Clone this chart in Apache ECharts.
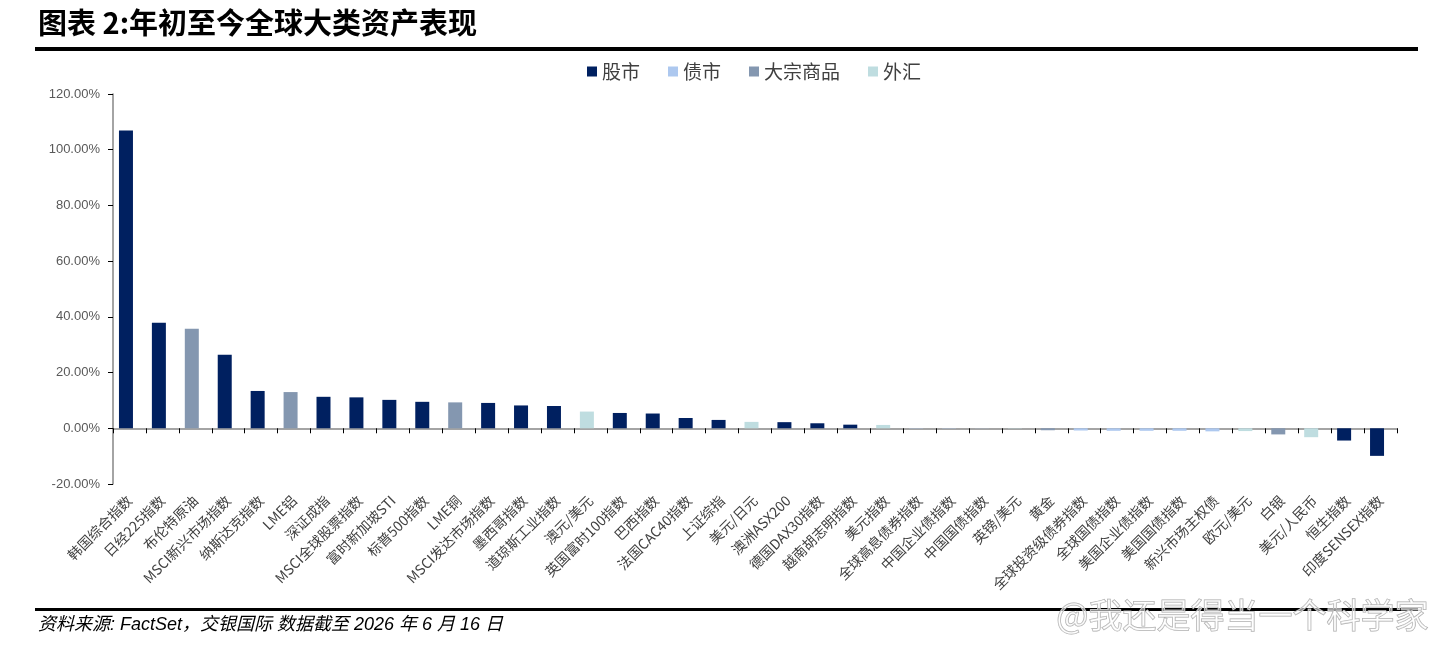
<!DOCTYPE html>
<html>
<head>
<meta charset="utf-8">
<title>年初至今全球大类资产表现</title>
<script src="https://cdn.jsdelivr.net/npm/echarts@6/dist/echarts.min.js"></script>
<style>
  html, body { margin: 0; padding: 0; background: #fff; }
  #chart { width: 1443px; height: 650px; }
</style>
</head>
<body>
<div id="chart"></div>
<script>
// 资产名称（按收益率从高到低）
const categories = [
  "韩国综合指数", "日经225指数", "布伦特原油", "MSCI新兴市场指数", "纳斯达克指数",
  "LME铝", "深证成指", "MSCI全球股票指数", "富时新加坡STI", "标普500指数",
  "LME铜", "MSCI发达市场指数", "墨西哥指数", "道琼斯工业指数", "澳元/美元",
  "英国富时100指数", "巴西指数", "法国CAC40指数", "上证综指", "美元/日元",
  "澳洲ASX200", "德国DAX30指数", "越南胡志明指数", "美元指数", "全球高息债券指数",
  "中国企业债指数", "中国国债指数", "英镑/美元", "黄金", "全球投资级债券指数",
  "全球国债指数", "美国企业债指数", "美国国债指数", "新兴市场主权债", "欧元/美元",
  "白银", "美元/人民币", "恒生指数", "印度SENSEX指数"
];

// 年初至今回报 (%)
const returns = [
  106.9, 37.9, 35.7, 26.4, 13.4,
  13.0, 11.3, 11.1, 10.2, 9.5,
  9.3, 9.1, 8.2, 8.0, 6.0,
  5.5, 5.3, 3.7, 3.0, 2.3,
  2.2, 1.8, 1.3, 1.2, 0.1,
  0.1, 0.05, 0.1, -0.7, -0.8,
  -0.9, -0.9, -0.9, -1.1, -1.0,
  -2.2, -3.2, -4.4, -9.9
];

// 资产类别
const assetClass = [
  "股市", "股市", "大宗商品", "股市", "股市",
  "大宗商品", "股市", "股市", "股市", "股市",
  "大宗商品", "股市", "股市", "股市", "外汇",
  "股市", "股市", "股市", "股市", "外汇",
  "股市", "股市", "股市", "外汇", "债市",
  "债市", "债市", "外汇", "大宗商品", "债市",
  "债市", "债市", "债市", "债市", "外汇",
  "大宗商品", "外汇", "股市", "股市"
];

const classNames = ["股市", "债市", "大宗商品", "外汇"];
const classColors = ["#002060", "#ADC8EF", "#8497B0", "#BFDDE0"];

const yTicks = { min: -20, max: 120, step: 20 };

const chart = echarts.init(document.getElementById("chart"));

const series = classNames.map(function (name, i) {
  return {
    name: name,
    type: "bar",
    stack: "main",
    xAxisIndex: 0,
    barWidth: 14,
    barGap: "-50%",
    itemStyle: { color: classColors[i] },
    data: returns.map(function (v, k) {
      return assetClass[k] === name ? v : "-";
    })
  };
});
// 空白占位列（让柱子略微偏左，与原图一致）
series.push({
  name: "pad",
  type: "bar",
  stack: "pad",
  xAxisIndex: 0,
  barWidth: 14,
  barGap: "-50%",
  data: returns.map(function () { return "-"; })
});

chart.setOption({
  animation: false,
  backgroundColor: "#fff",
  textStyle: { fontFamily: "Noto Sans CJK SC" },
  legend: {
    data: classNames,
    left: 582,
    top: 57,
    icon: "rect",
    itemWidth: 10,
    itemHeight: 10,
    itemGap: 28,
    textStyle: {
      fontSize: 19,
      color: "#404040",
      fontFamily: "Noto Sans CJK SC"
    }
  },
  grid: {
    left: 113,
    right: 46,
    top: 94,
    bottom: 166,
    containLabel: false
  },
  xAxis: [
    {
      type: "category",
      data: categories,
      axisLine: { onZero: true, lineStyle: { color: "#868686", width: 1.5 } },
      axisTick: { show: true, interval: 0, length: 5, lineStyle: { color: "#000" } },
      axisLabel: { show: false }
    },
    {
      type: "category",
      data: categories,
      position: "bottom",
      axisLine: { show: false, onZero: false },
      axisTick: { show: false },
      axisLabel: {
        interval: 0,
        rotate: 45,
        margin: 14,
        fontSize: 14,
        color: "#404040",
        fontFamily: "Noto Sans CJK SC"
      }
    }
  ],
  yAxis: {
    type: "value",
    min: yTicks.min,
    max: yTicks.max,
    interval: yTicks.step,
    axisLine: { show: true, lineStyle: { color: "#868686", width: 1.5 } },
    axisTick: { show: true, length: 5, lineStyle: { color: "#000" } },
    splitLine: { show: false },
    axisLabel: {
      margin: 13,
      fontSize: 13,
      color: "#595959",
      fontFamily: "Liberation Sans",
      formatter: function (v) { return v.toFixed(2) + "%"; }
    }
  },
  graphic: [
    {
      type: "text",
      left: 38,
      top: 8,
      style: {
        text: "图表 2:年初至今全球大类资产表现",
        font: "bold 29px 'Noto Sans CJK SC'",
        fill: "#000"
      }
    },
    { type: "rect", shape: { x: 35, y: 47, width: 1383, height: 4 }, style: { fill: "#000" } },
    { type: "rect", shape: { x: 35, y: 608, width: 1383, height: 3 }, style: { fill: "#000" } },
    {
      type: "text",
      left: 38,
      top: 616,
      style: {
        text: "资料来源: FactSet，交银国际 数据截至 2026 年 6 月 16 日",
        font: "italic 18px 'Liberation Sans', 'Noto Sans CJK SC'",
        fill: "#000"
      }
    },
    {
      type: "text",
      right: 14,
      top: 598,
      z: 100,
      style: {
        text: "@我还是得当一个科学家",
        font: "34px 'Noto Sans CJK SC'",
        fill: "rgba(255,255,255,0.55)",
        stroke: "#a8a8a8",
        lineWidth: 1
      }
    }
  ],
  series: series
});
</script>
</body>
</html>
